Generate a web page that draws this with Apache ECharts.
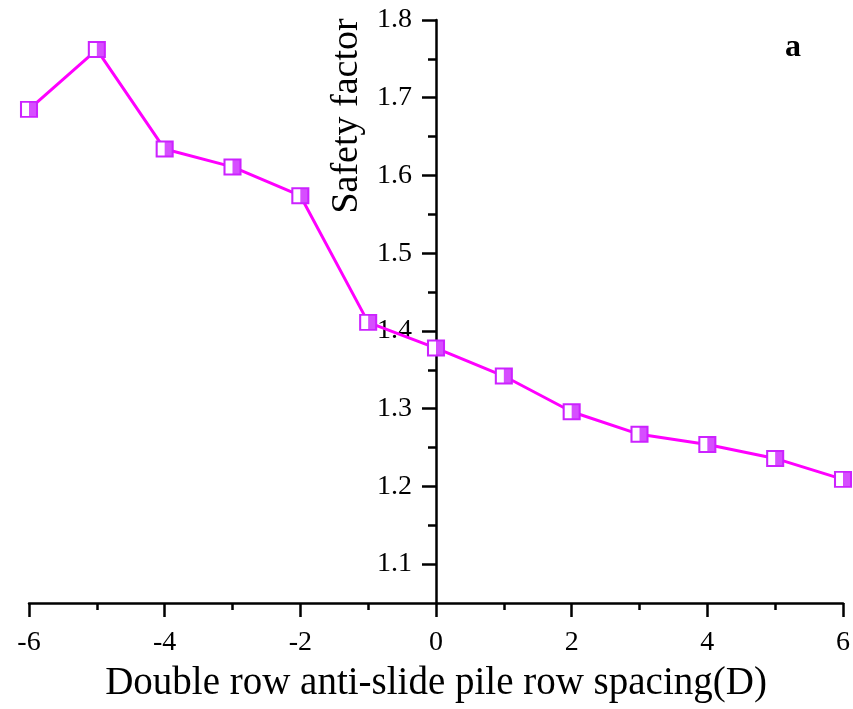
<!DOCTYPE html>
<html>
<head>
<meta charset="utf-8">
<script src="https://cdn.jsdelivr.net/npm/echarts@6/dist/echarts.min.js"></script>
<style>
  html, body { margin: 0; padding: 0; background: #fff; }
  #chart { width: 853px; height: 709px; }
</style>
</head>
<body>
<div id="chart"></div>
<script>
// Data
const rowSpacing = [-6, -5, -4, -3, -2, -1, 0, 1, 2, 3, 4, 5, 6];
const safetyFactor = [1.685, 1.762, 1.634, 1.611, 1.574, 1.411, 1.378, 1.342, 1.296, 1.267, 1.254, 1.236, 1.209];
const yMajorTicks = [1.1, 1.2, 1.3, 1.4, 1.5, 1.6, 1.7, 1.8];
const yMinorTicks = [1.15, 1.25, 1.35, 1.45, 1.55, 1.65, 1.75];
const xTitle = 'Double row anti-slide pile row spacing(D)';
const yTitle = 'Safety factor';
const panelLabel = 'a';

const points = rowSpacing.map((x, i) => [x, safetyFactor[i]]);
const FONT = '"Liberation Serif", "DejaVu Serif", serif';

// layout: y axis drawn at x = 0 of the x axis (middle of the grid)
const GRID_LEFT = 29, GRID_RIGHT = 10;
const CHART_W = 853;
const Y_AXIS_OFFSET = -((CHART_W - GRID_LEFT - GRID_RIGHT) / 2);

const chart = echarts.init(document.getElementById('chart'), null, { renderer: 'canvas' });
chart.setOption({
  backgroundColor: '#ffffff',
  animation: false,
  grid: { left: GRID_LEFT, right: GRID_RIGHT, top: 20, bottom: 106, containLabel: false, outerBoundsMode: 'none' },
  xAxis: {
    type: 'value',
    min: -6, max: 6, interval: 2,
    name: xTitle,
    nameLocation: 'middle',
    nameGap: 61,
    nameTextStyle: { fontFamily: FONT, fontSize: 39, color: '#000' },
    axisLine: { onZero: false, lineStyle: { color: '#000', width: 2.5 } },
    axisTick: { show: true, inside: false, length: 14, lineStyle: { color: '#000', width: 2.5 } },
    minorTick: { show: true, splitNumber: 2, length: 7, lineStyle: { color: '#000', width: 2.5 } },
    axisLabel: { fontFamily: FONT, fontSize: 28, color: '#000', margin: 26 },
    splitLine: { show: false },
    minorSplitLine: { show: false }
  },
  yAxis: [
    {
      type: 'value',
      position: 'left',
      offset: Y_AXIS_OFFSET,
      min: 1.05, max: 1.8, interval: 0.05,
      axisLine: { onZero: false, lineStyle: { color: '#000', width: 2.5 } },
      axisTick: { show: true, inside: false, length: 14, customValues: yMajorTicks, lineStyle: { color: '#000', width: 2.5 } },
      axisLabel: { fontFamily: FONT, fontSize: 28, color: '#000', margin: 24, customValues: yMajorTicks,
        formatter: v => v.toFixed(1) },
      splitLine: { show: false }
    },
    {
      type: 'value',
      position: 'left',
      offset: Y_AXIS_OFFSET,
      min: 1.05, max: 1.8, interval: 0.05,
      axisLine: { show: false, onZero: false },
      axisTick: { show: true, inside: false, length: 8, customValues: yMinorTicks, lineStyle: { color: '#000', width: 2.5 } },
      axisLabel: { show: false },
      splitLine: { show: false }
    }
  ],
  graphic: [
    {
      type: 'text',
      x: 347, y: 116,
      rotation: Math.PI / 2,
      style: { text: yTitle, font: '38px ' + FONT, fill: '#000', align: 'center', verticalAlign: 'middle' }
    },
    {
      type: 'text',
      x: 793, y: 48,
      style: { text: panelLabel, font: 'bold 32px ' + FONT, fill: '#000', align: 'center', verticalAlign: 'middle' }
    }
  ],
  series: [
    {
      type: 'line',
      data: points,
      symbol: 'rect',
      symbolSize: [16, 15],
      showAllSymbol: true,
      lineStyle: { color: '#FF00FF', width: 3 },
      itemStyle: { color: '#ffffff', borderColor: '#CC22FF', borderWidth: 2 },
      z: 3
    },
    {
      type: 'scatter',
      data: points,
      symbol: 'rect',
      symbolSize: [8, 15],
      symbolOffset: [4, 0],
      itemStyle: { color: '#CC22FF' },
      z: 4
    }
  ]
});
</script>
</body>
</html>
